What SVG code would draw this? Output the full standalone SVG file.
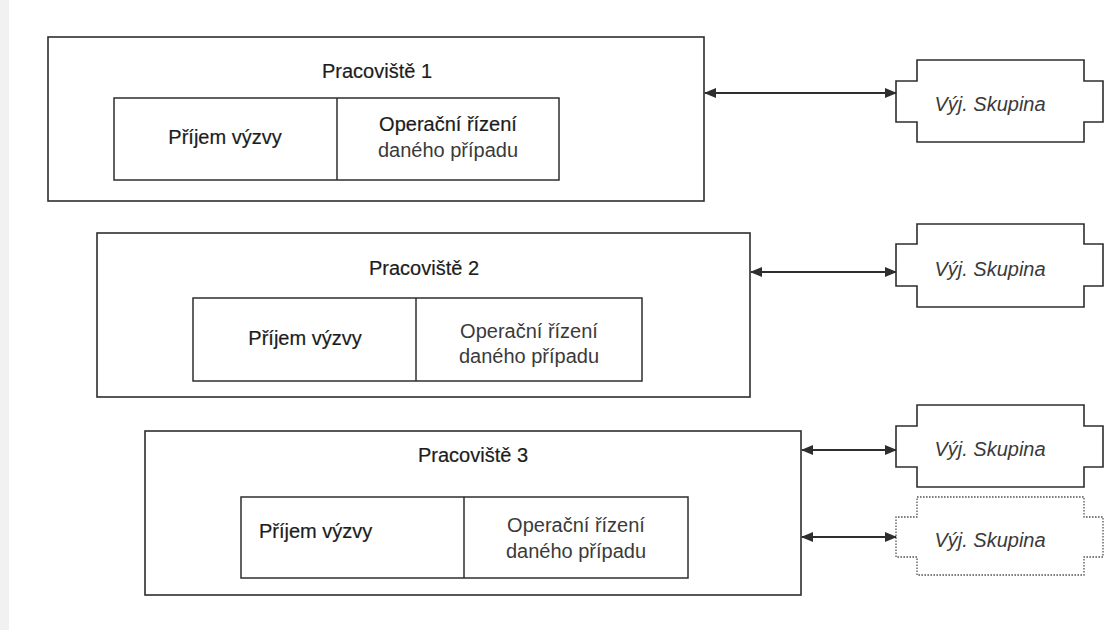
<svg xmlns="http://www.w3.org/2000/svg" width="1105" height="630" viewBox="0 0 1105 630">
  <style>
    .frame { fill: #ffffff; stroke: #2e2e2e; stroke-width: 1.6; }
    .cell { fill: none; stroke: #2e2e2e; stroke-width: 1.5; }
    .ext { fill: #ffffff; stroke: #2e2e2e; stroke-width: 1.6; }
    .ext-dot { fill: #ffffff; stroke: #555555; stroke-width: 1.3; stroke-dasharray: 1.6 1.4; }
    .link { stroke: #2e2e2e; stroke-width: 1.8; fill: none; marker-start: url(#head); marker-end: url(#head); }
    text { font-family: "Liberation Sans", Arial, sans-serif; font-size: 20px; fill: #3a3a3a; }
    .strong { fill: #1c1c1c; stroke: #1c1c1c; stroke-width: 0.2; }
    .mid { text-anchor: middle; }
    .ital { font-style: italic; fill: #3a3a3a; }
  </style>
  <defs>
    <marker id="head" viewBox="0 0 12 10" refX="11" refY="5" markerUnits="userSpaceOnUse" markerWidth="13" markerHeight="10" orient="auto-start-reverse">
      <path d="M0,0 L12,5 L0,10 Z" fill="#2e2e2e"/>
    </marker>
  </defs>

  <rect x="0" y="0" width="1105" height="630" fill="#ffffff"/>
  <rect x="0" y="0" width="9" height="630" fill="#f1f1f1"/>

  <!-- workplace 1 -->
  <g id="pracoviste-1">
    <rect class="frame" x="48" y="37" width="656" height="164"/>
    <text class="mid strong" x="377" y="78">Pracoviště 1</text>
    <rect class="cell" x="114" y="98" width="445" height="82"/>
    <line class="cell" x1="337" y1="98" x2="337" y2="180"/>
    <text class="mid strong" x="225" y="144">Příjem výzvy</text>
    <text class="mid strong" x="448" y="131">Operační řízení</text>
    <text class="mid" x="448" y="157">daného případu</text>
  </g>

  <!-- workplace 2 -->
  <g id="pracoviste-2">
    <rect class="frame" x="97" y="233" width="653" height="164"/>
    <text class="mid strong" x="424" y="275">Pracoviště 2</text>
    <rect class="cell" x="193" y="298" width="449" height="83"/>
    <line class="cell" x1="416" y1="298" x2="416" y2="381"/>
    <text class="mid strong" x="305" y="345">Příjem výzvy</text>
    <text class="mid" x="529" y="338">Operační řízení</text>
    <text class="mid" x="529" y="363">daného případu</text>
  </g>

  <!-- workplace 3 -->
  <g id="pracoviste-3">
    <rect class="frame" x="145" y="431" width="656" height="164"/>
    <text class="mid strong" x="473" y="462">Pracoviště 3</text>
    <rect class="cell" x="241" y="497" width="447" height="81"/>
    <line class="cell" x1="464" y1="497" x2="464" y2="578"/>
    <text class="strong" x="259" y="538">Příjem výzvy</text>
    <text class="mid" x="576" y="532">Operační řízení</text>
    <text class="mid" x="576" y="558">daného případu</text>
  </g>

  <!-- external groups -->
  <g id="skupina-1">
    <path class="ext" d="M917,60 H1084 V81 H1103 V122 H1084 V142 H917 V122 H896 V81 H917 Z"/>
    <text class="mid ital" x="990" y="111">Výj. Skupina</text>
  </g>
  <g id="skupina-2">
    <path class="ext" d="M917,224 H1084 V244 H1103 V286 H1084 V307 H917 V286 H896 V244 H917 Z"/>
    <text class="mid ital" x="990" y="276">Výj. Skupina</text>
  </g>
  <g id="skupina-3">
    <path class="ext" d="M917,405 H1084 V426 H1103 V467 H1084 V487 H917 V467 H896 V426 H917 Z"/>
    <text class="mid ital" x="990" y="456">Výj. Skupina</text>
  </g>
  <g id="skupina-4">
    <path class="ext-dot" d="M917,497 H1084 V517 H1103 V557 H1084 V575 H917 V557 H896 V517 H917 Z"/>
    <text class="mid ital" x="990" y="547">Výj. Skupina</text>
  </g>

  <!-- two-way links -->
  <g id="connectors">
    <line class="link" x1="705" y1="93" x2="896" y2="93"/>
    <line class="link" x1="751" y1="272" x2="896" y2="272"/>
    <line class="link" x1="802" y1="450" x2="896" y2="450"/>
    <line class="link" x1="802" y1="537" x2="896" y2="537"/>
  </g>
</svg>
